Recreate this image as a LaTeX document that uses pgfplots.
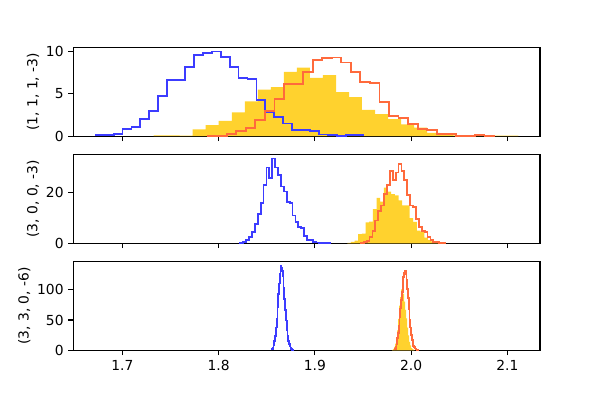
\documentclass[border=0pt]{standalone}
\usepackage{fontspec}
\setmainfont{DejaVu Sans}
\usepackage{pgfplots}
\usepackage{pgfplotstable}
\pgfplotsset{compat=1.18}

\definecolor{histblue}{HTML}{3C3CFF}
\definecolor{historange}{HTML}{FF6A3C}
\definecolor{histgold}{HTML}{FFD22E}

% each table: first edge at 0, left edges with bin heights, last edge at 0
\pgfplotstableread{
x y
1.6723 0
1.6723 0.1
1.6816 0.1
1.6909 0.3
1.7002 0.8
1.7094 1.1
1.7187 2.0
1.7280 3.0
1.7373 4.7
1.7465 6.6
1.7558 6.6
1.7651 8.2
1.7744 9.6
1.7836 9.8
1.7929 10.0
1.8022 9.4
1.8115 8.2
1.8207 6.9
1.8300 6.8
1.8393 4.3
1.8486 2.9
1.8578 2.3
1.8671 1.5
1.8764 0.7
1.8857 0.7
1.8949 0.6
1.9042 0.2
1.9135 0.1
1.9228 0.05
1.9320 0.1
1.9413 0.1
1.9506 0
}\topblue

\pgfplotstableread{
x y
1.7885 0
1.7885 0.05
1.7985 0.05
1.8084 0.3
1.8183 0.6
1.8282 1.0
1.8382 1.9
1.8481 3.0
1.8580 4.4
1.8679 6.2
1.8779 6.2
1.8878 7.6
1.8977 9.0
1.9076 9.2
1.9176 9.3
1.9275 8.7
1.9374 7.6
1.9473 6.4
1.9573 6.3
1.9672 4.0
1.9771 2.4
1.9870 2.1
1.9970 1.4
2.0069 0.8
2.0168 0.7
2.0267 0.3
2.0367 0.3
2.0466 0.05
2.0565 0.05
2.0664 0.1
2.0764 0.05
2.0863 0
}\toporange

\pgfplotstableread{
x y
1.7325 0
1.7325 0.1
1.7460 0.1
1.7595 0.05
1.7731 0.8
1.7866 1.3
1.8001 1.8
1.8137 2.8
1.8272 4.1
1.8408 5.5
1.8543 5.8
1.8678 7.6
1.8814 8.1
1.8949 6.9
1.9084 7.2
1.9220 5.2
1.9355 4.6
1.9490 3.1
1.9626 2.6
1.9761 2.0
1.9897 1.4
2.0032 1.0
2.0167 0.4
2.0303 0.2
2.0438 0.1
2.0573 0.1
2.0709 0.1
2.0844 0.05
2.0980 0.05
2.1115 0
}\topgold

\pgfplotstableread{
x y
1.8226 0
1.8226 0.2
1.8256 0.5
1.8286 1.3
1.8316 2.5
1.8346 4.5
1.8377 7.5
1.8407 11.5
1.8437 16
1.8467 23
1.8497 30
1.8527 26
1.8557 33.6
1.8587 30
1.8617 27
1.8648 22.5
1.8678 20.5
1.8708 16.5
1.8738 16
1.8768 11
1.8798 8.5
1.8828 6.5
1.8858 6
1.8888 3
1.8918 1.3
1.8949 1.2
1.8979 0.5
1.9009 0.3
1.9039 0.2
1.9069 0.2
1.9099 0.1
1.9129 0.1
1.9159 0
}\midblue

\pgfplotstableread{
x y
1.9479 0
1.9479 0.2
1.9509 0.4
1.9539 1.0
1.9569 2.5
1.9599 5
1.9629 9
1.9659 12.7
1.9690 15
1.9720 19.5
1.9750 23
1.9780 28.5
1.9810 25
1.9840 28
1.9870 31.5
1.9900 28.5
1.9930 25
1.9961 19
1.9991 15
2.0021 14.5
2.0051 9.5
2.0081 6.5
2.0111 5
2.0141 4.5
2.0171 2.5
2.0201 1.2
2.0232 0.6
2.0262 0.4
2.0292 0.2
2.0322 0.1
2.0352 0
}\midorange

\pgfplotstableread{
x y
1.9337 0
1.9337 0.2
1.9375 0.5
1.9413 1.0
1.9451 3.6
1.9489 3.8
1.9527 8.3
1.9565 8.6
1.9603 13.5
1.9641 18
1.9679 16.5
1.9718 22
1.9756 20.5
1.9794 19.5
1.9832 19
1.9870 17
1.9908 15
1.9946 15
1.9984 10
2.0022 8.5
2.0060 5
2.0098 4.5
2.0137 2.2
2.0175 1.2
2.0213 0.5
2.0251 0.3
2.0289 0.2
2.0327 0
}\midgold

\pgfplotstableread{
x y
1.8555 0
1.8555 1.6
1.8563 4.6
1.8571 8.9
1.8579 15.5
1.8587 23.5
1.8595 37.7
1.8603 52
1.8611 72
1.8619 92.5
1.8627 110
1.8635 125.6
1.8643 139
1.8651 136
1.8659 131
1.8667 122.7
1.8675 103.5
1.8683 84.5
1.8691 65.8
1.8699 49
1.8707 32.7
1.8715 23.6
1.8723 14.9
1.8731 10.1
1.8739 6.4
1.8747 3.9
1.8755 1.9
1.8763 0.5
1.8771 0
}\botblue

\pgfplotstableread{
x y
1.9832 0
1.9832 1.9
1.9840 5.6
1.9848 11
1.9856 19.8
1.9864 29.2
1.9872 40.1
1.9880 55
1.9888 68.8
1.9896 82.6
1.9904 96.4
1.9912 110.2
1.9920 121
1.9928 128.2
1.9936 130
1.9944 126.3
1.9952 116.3
1.9960 101.5
1.9968 85.7
1.9976 68.2
1.9984 50.8
1.9992 37.7
2.0000 24.8
2.0008 17.3
2.0016 11.3
2.0024 7.6
2.0032 5.0
2.0040 3.2
2.0048 2.4
2.0056 1.4
2.0064 0.6
2.0072 0
}\botorange

\pgfplotstableread{
x y
1.9804 0
1.9804 0.75
1.9814 2.25
1.9825 5.7
1.9835 11.1
1.9846 21
1.9856 33
1.9866 52
1.9877 73.8
1.9887 87.5
1.9897 100.5
1.9908 101.7
1.9918 92.9
1.9929 80
1.9939 66.5
1.9949 52.5
1.9960 37.5
1.9970 24.6
1.9981 13.8
1.9991 8
2.0001 3.75
2.0012 2.25
2.0022 1.05
2.0033 0.15
2.0043 0
}\botgold

\pgfplotsset{
  panel/.style={
    scale only axis,
    width=337.3pt, height=64.2pt,
    anchor=north west,
    xmin=1.649, xmax=2.134, ymin=0,
    xtick={1.7,1.8,1.9,2.0,2.1},
    tick pos=left,
    tick align=outside,
    major tick length=3.5pt,
    tick style={black, line width=0.8pt},
    axis line style={line width=0.8pt},
    /pgf/number format/assume math mode=true,
    x tick label style={/pgf/number format/.cd, fixed, fixed zerofill, precision=1},
    ylabel style={yshift=-2pt},
  },
  stepblue/.style={const plot, draw=histblue, line width=1.3pt, no marks},
  steporange/.style={const plot, draw=historange, line width=1.3pt, no marks},
  goldfill/.style={const plot, fill=histgold, draw=none, no marks},
}

\begin{document}
\begin{tikzpicture}
\path[use as bounding box] (0,0) rectangle (433.62pt,-289.08pt);

\begin{axis}[panel, at={(52.97pt,-34.2pt)}, ymax=10.5, ytick={0,5,10},
  xticklabels={}, ylabel={(1, 1, 1, -3)}]
\addplot[goldfill] table {\topgold} \closedcycle;
\addplot[stepblue] table {\topblue};
\addplot[steporange] table {\toporange};
\end{axis}

\begin{axis}[panel, at={(52.97pt,-111.6pt)}, ymax=35.2, ytick={0,20},
  xticklabels={}, ylabel={(3, 0, 0, -3)}]
\addplot[goldfill] table {\midgold} \closedcycle;
\addplot[stepblue] table {\midblue};
\addplot[steporange] table {\midorange};
\end{axis}

\begin{axis}[panel, at={(52.97pt,-189.0pt)}, ymax=146.2, ytick={0,50,100},
  ylabel={(3, 3, 0, -6)}]
\addplot[goldfill] table {\botgold} \closedcycle;
\addplot[stepblue] table {\botblue};
\addplot[steporange] table {\botorange};
\end{axis}
\end{tikzpicture}
\end{document}
